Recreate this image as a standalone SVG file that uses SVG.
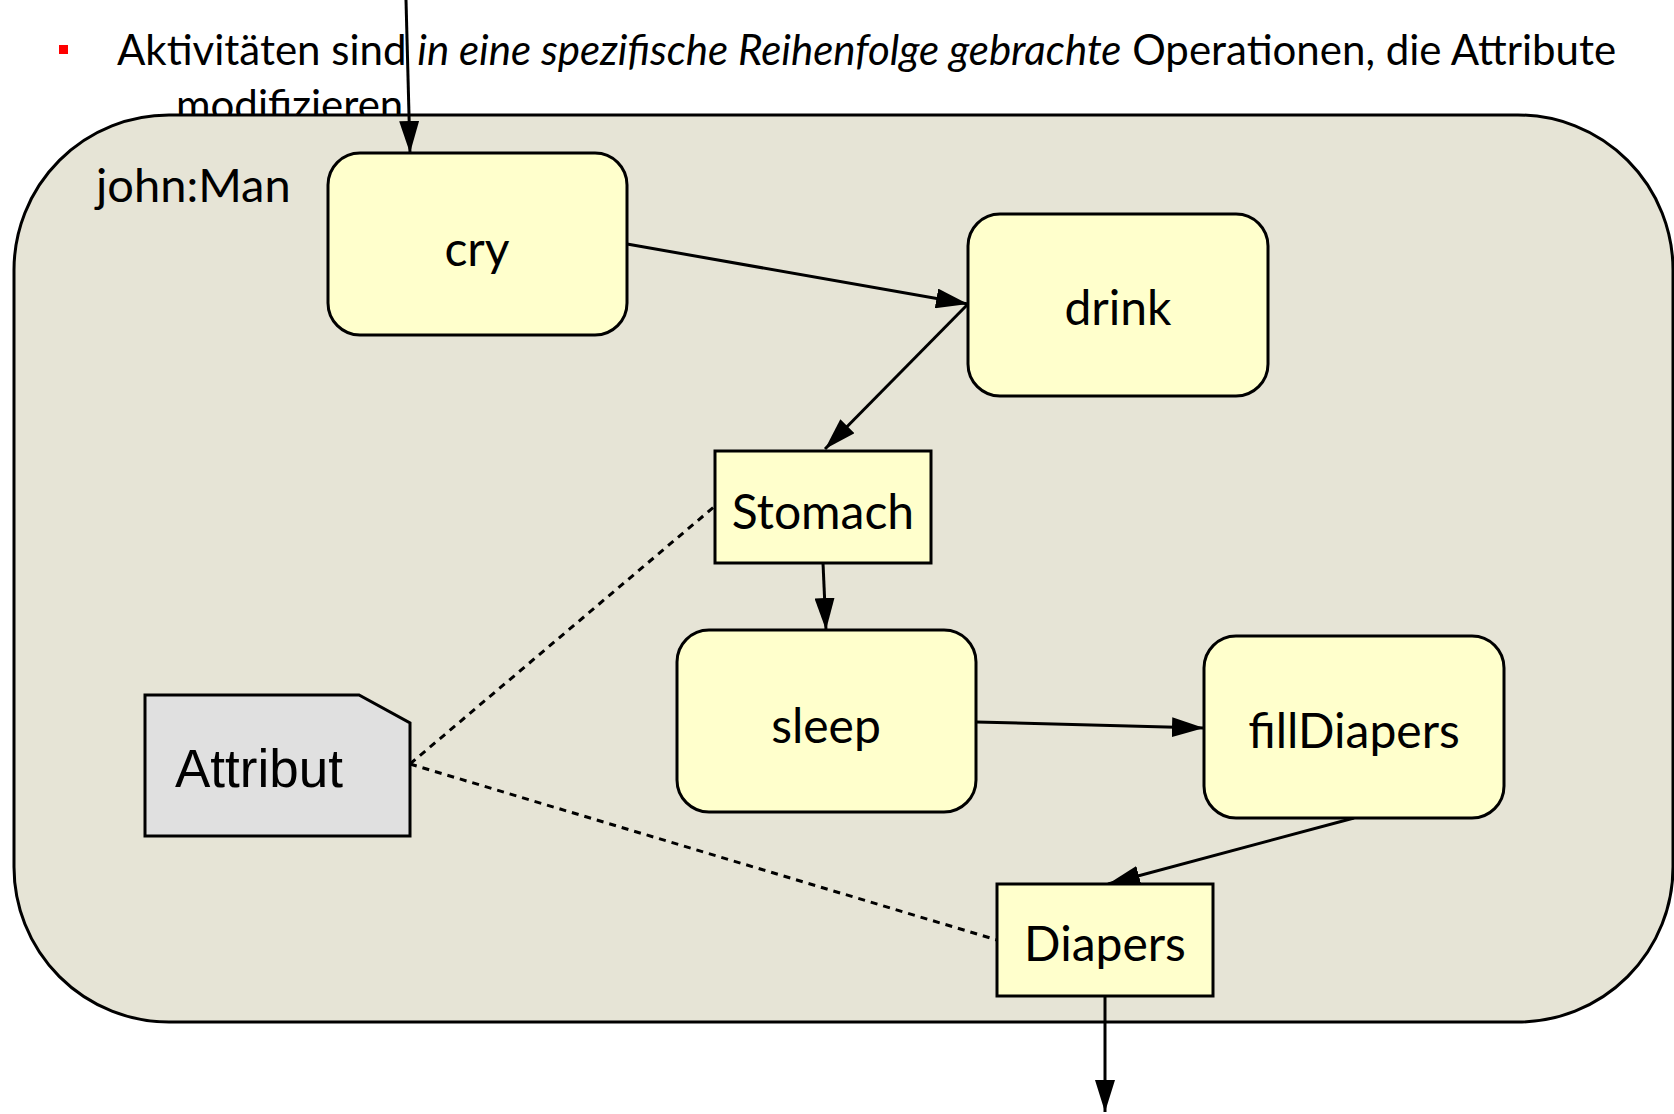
<svg xmlns="http://www.w3.org/2000/svg" width="1674" height="1114" viewBox="0 0 1674 1114">
<style>
.t{font-family:Lato,"Liberation Sans",sans-serif;fill:#000}
.hd{font-size:42px}
.lbl{font-size:48px;text-anchor:middle}
.act{fill:#ffffcc;stroke:#000;stroke-width:3}
.obj{fill:#ffffcc;stroke:#000;stroke-width:3}
.edge{stroke:#000;stroke-width:3;fill:none}
.dot{stroke:#000;stroke-width:3;fill:none;stroke-dasharray:7 6}
</style>
<defs>
<marker id="ahb" viewBox="0 0 32 20" refX="32" refY="10" markerWidth="32" markerHeight="20" markerUnits="userSpaceOnUse" orient="auto">
<path d="M0,0 L32,10 L0,20 z" fill="#000"/>
</marker>
</defs>
<rect width="1674" height="1114" fill="#fff"/>
<g id="header">
<rect x="59" y="45" width="9" height="9" fill="#ff0000"/>
<text class="t hd" x="117" y="65">Aktivitäten sind <tspan font-style="italic">in eine spezifische Reihenfolge gebrachte</tspan> Operationen, die Attribute</text>
<text class="t hd" x="176" y="120">modifizieren</text>
</g>
<g id="container">
<rect x="14" y="115" width="1659" height="907" rx="155" ry="155" fill="#e6e4d6" stroke="#000" stroke-width="3"/>
<text class="t" x="96" y="202" font-size="47">john:Man</text>
</g>
<g id="connectors">
<line class="edge" x1="406" y1="0" x2="410" y2="153" marker-end="url(#ahb)"/>
<line class="edge" x1="627" y1="244" x2="968" y2="304" marker-end="url(#ahb)"/>
<line class="edge" x1="968" y1="304" x2="825" y2="449" marker-end="url(#ahb)"/>
<line class="edge" x1="823" y1="563" x2="826" y2="630" marker-end="url(#ahb)"/>
<line class="edge" x1="976" y1="722" x2="1204" y2="728" marker-end="url(#ahb)"/>
<line class="edge" x1="1354" y1="818" x2="1108" y2="884" marker-end="url(#ahb)"/>
<line class="edge" x1="1105" y1="996" x2="1105" y2="1112" marker-end="url(#ahb)"/>
<line class="dot" x1="410" y1="764" x2="715" y2="506"/>
<line class="dot" x1="410" y1="764" x2="997" y2="940"/>
</g>
<g id="cry">
<rect class="act" x="328" y="153" width="299" height="182" rx="32" ry="32"/>
<text class="t lbl" x="477" y="266">cry</text>
</g>
<g id="drink">
<rect class="act" x="968" y="214" width="300" height="182" rx="32" ry="32"/>
<text class="t lbl" x="1118" y="325">drink</text>
</g>
<g id="stomach">
<rect class="obj" x="715" y="451" width="216" height="112"/>
<text class="t lbl" x="823" y="529">Stomach</text>
</g>
<g id="sleep">
<rect class="act" x="677" y="630" width="299" height="182" rx="32" ry="32"/>
<text class="t lbl" x="826" y="743">sleep</text>
</g>
<g id="fillDiapers">
<rect class="act" x="1204" y="636" width="300" height="182" rx="32" ry="32"/>
<text class="t lbl" x="1354" y="748">fillDiapers</text>
</g>
<g id="diapers">
<rect class="obj" x="997" y="884" width="216" height="112"/>
<text class="t lbl" x="1105" y="961">Diapers</text>
</g>
<g id="attribut">
<path d="M145,695 L359,695 L410,723 L410,836 L145,836 z" fill="#e0e0e0" stroke="#000" stroke-width="3"/>
<text x="175" y="787" font-family="Liberation Sans, Arial, sans-serif" font-size="53">Attribut</text>
</g>
</svg>
